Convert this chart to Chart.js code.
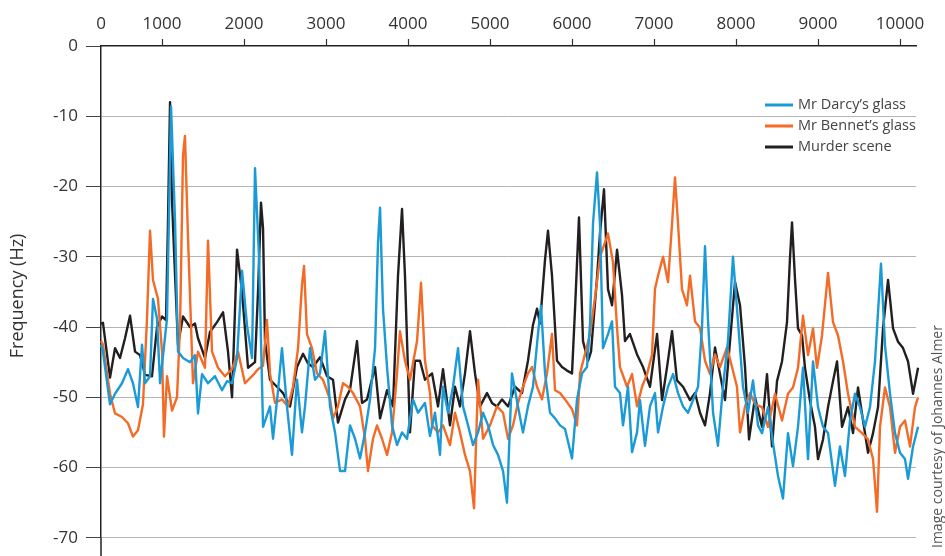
<!DOCTYPE html>
<html>
<head>
<meta charset="utf-8">
<script src="https://cdn.jsdelivr.net/npm/chart.js@4/dist/chart.umd.min.js"></script>
<style>
html,body{margin:0;padding:0;background:#fff;}
#wrap{width:945px;height:556px;position:relative;}
</style>
</head>
<body>
<div id="wrap"><canvas id="c" width="945" height="556"></canvas></div>
<script>
// ---------- DATA ----------
const X_MIN = 256, X_MAX = 10195;
const xTickValues = [X_MIN, 1000, 2000, 3000, 4000, 5000, 6000, 7000, 8000, 9000, 10000];
const xTickLabels = ['0', '1000', '2000', '3000', '4000', '5000', '6000', '7000', '8000', '9000', '10000'];
const yTickValues = [0, -10, -20, -30, -40, -50, -60, -70];
const yTitle = 'Frequency (Hz)';
const creditText = 'Image courtesy of Johannes Almer';
const seriesNames = ['Mr Darcy\u2019s glass', 'Mr Bennet\u2019s glass', 'Murder scene'];

const darcyX = [256,280,366,427,512,585,646,707,756,793,854,890,939,976,1061,1110,1159,1195,1256,1341,1402,1439,1488,1561,1646,1732,1793,1854,1915,1976,2037,2098,2134,2183,2232,2317,2354,2415,2463,2524,2585,2646,2707,2744,2805,2866,2927,2988,3049,3110,3171,3232,3293,3354,3415,3476,3537,3598,3634,3659,3695,3744,3805,3866,3927,3988,4061,4122,4207,4268,4329,4390,4427,4488,4549,4610,4671,4732,4793,4854,4915,4976,5037,5098,5159,5207,5268,5341,5402,5463,5524,5585,5622,5671,5732,5793,5854,5915,6000,6061,6122,6183,6220,6256,6305,6341,6378,6439,6488,6524,6585,6622,6683,6732,6793,6829,6890,6951,7012,7049,7110,7171,7232,7293,7354,7415,7476,7537,7585,7622,7659,7720,7780,7841,7902,7963,8024,8085,8146,8207,8268,8317,8390,8451,8512,8573,8634,8695,8756,8817,8878,8939,9000,9061,9122,9207,9268,9329,9390,9451,9512,9573,9634,9695,9768,9817,9878,9939,10000,10061,10098,10159,10220,10268];
const darcyY = [-42.5,-43.5,-51,-49.5,-48,-46,-48,-51.4,-42.5,-48,-47,-36,-38.8,-48,-38.8,-8.6,-25,-43.5,-44.4,-45,-44,-52.3,-46.7,-48,-47,-49,-47.7,-48,-44.4,-32,-39.8,-44.4,-17.4,-30,-54.2,-51.3,-55.9,-49,-43,-51.3,-58.2,-47.5,-55,-51.3,-43,-47.5,-46.6,-40.6,-51.3,-55,-60.5,-60.5,-54,-55.9,-58.7,-55,-50.3,-43,-28,-23,-37.4,-45.7,-54,-56.8,-55,-55.9,-50.3,-52.2,-50.8,-55.5,-52.2,-58.2,-48.5,-52.2,-48.5,-43,-51.3,-54,-56.8,-55,-52.2,-54,-56.8,-58.2,-60.5,-65,-46.6,-51.3,-55,-51.3,-48.5,-41,-37,-46.6,-52.2,-53,-54,-54.5,-58.7,-50.3,-46.6,-45.7,-39.5,-25.3,-18,-25.3,-43,-41,-39.2,-48.5,-49.4,-54,-48.5,-57.8,-55,-50.4,-56.9,-51.3,-49.4,-55,-51.3,-48.5,-46.7,-49.4,-51.3,-52.2,-50.4,-48.5,-40.1,-28.5,-39.2,-52.2,-56.9,-48.5,-42,-30,-39.2,-48.5,-52.2,-47.6,-54,-55.1,-51.4,-56.5,-61.2,-64.4,-55.1,-59.8,-54.2,-45.8,-58.8,-44.9,-51.4,-54.2,-55.1,-62.6,-57,-61.2,-53.3,-49.5,-51.4,-54.2,-51.4,-44.9,-31,-42.6,-49.5,-55.1,-57.9,-58.8,-61.6,-57,-54.2,-53.7];

const bennetX = [256,280,366,427,512,585,646,707,768,817,854,890,951,1000,1024,1061,1122,1183,1220,1256,1280,1317,1378,1439,1524,1561,1610,1683,1768,1854,1927,2012,2098,2171,2232,2280,2317,2378,2463,2537,2598,2659,2707,2732,2768,2829,2890,2963,3049,3085,3146,3207,3268,3329,3415,3476,3512,3573,3622,3683,3744,3805,3866,3902,3963,4024,4110,4159,4207,4268,4293,4366,4427,4512,4573,4634,4695,4756,4805,4854,4915,5000,5085,5159,5220,5280,5341,5402,5463,5512,5573,5634,5695,5756,5793,5854,5915,6000,6061,6098,6159,6220,6305,6341,6439,6500,6549,6585,6671,6732,6793,6854,6915,6976,7012,7049,7110,7171,7220,7256,7293,7341,7402,7439,7500,7561,7622,7683,7744,7805,7890,7951,8012,8049,8110,8171,8232,8317,8390,8476,8561,8634,8695,8756,8817,8878,8939,8988,9049,9122,9183,9244,9305,9366,9451,9537,9610,9671,9720,9756,9817,9878,9939,10000,10061,10122,10183,10220,10268];
const bennetY = [-42,-42.5,-49.5,-52.3,-52.8,-53.7,-55.6,-54.7,-51,-38.8,-26.3,-33.3,-36,-43.5,-55.6,-47,-51.9,-50,-39.8,-15.6,-12.8,-27.2,-48,-43.5,-45.8,-27.7,-43.5,-45.8,-47,-46,-43.5,-48,-47,-46,-45.5,-39,-46.6,-50.8,-50.3,-51.3,-48.5,-43,-34,-31.3,-41,-43,-46.6,-47.5,-50.3,-53,-51.3,-48,-48.5,-49.4,-51.3,-55.9,-60.5,-55.9,-54,-55.9,-58.2,-55,-46.6,-40.6,-44.8,-47.5,-42,-33.7,-44.8,-49.4,-54,-55,-54,-56.8,-52.2,-55,-58.2,-60.5,-65.8,-47.5,-55.9,-54,-51.3,-52.2,-55.9,-54,-50.8,-48.5,-46.6,-45.7,-48.5,-50.3,-46.6,-41,-49,-49.4,-50.3,-51.7,-54,-46.6,-43.8,-41,-33.6,-30,-26.7,-30.8,-40.1,-45.7,-48.5,-46.7,-51.3,-48.5,-46.7,-43.9,-34.6,-32.7,-30,-33.6,-25.3,-18.7,-25.3,-34.6,-36.9,-32.7,-39.2,-40.1,-44.8,-46.7,-43.9,-45.7,-42.9,-45.7,-48.5,-55,-51.3,-49.4,-51,-51.4,-54.2,-49.5,-53.3,-49.5,-48.6,-45.8,-38.4,-44,-40.2,-45.8,-41.2,-32.3,-39.3,-41.2,-44.9,-49.5,-54.2,-55.1,-56,-58.8,-66.3,-54.2,-48.6,-51.4,-57.9,-54.2,-53.3,-57,-51.4,-50,-52.3];

const murderX = [256,280,366,427,488,549,610,671,732,793,878,939,1000,1049,1073,1098,1122,1146,1195,1256,1341,1402,1439,1524,1585,1671,1744,1805,1854,1915,1976,2049,2134,2171,2207,2232,2256,2317,2402,2476,2561,2646,2720,2780,2841,2927,3012,3085,3146,3232,3293,3378,3439,3500,3598,3659,3744,3817,3878,3927,3963,4024,4085,4146,4207,4293,4366,4427,4512,4573,4634,4695,4756,4817,4878,4963,5024,5085,5146,5220,5305,5390,5463,5524,5573,5610,5671,5707,5756,5817,5878,5939,6000,6037,6085,6134,6195,6232,6305,6341,6390,6439,6488,6549,6610,6646,6707,6793,6866,6951,7037,7098,7159,7220,7280,7354,7439,7500,7561,7622,7683,7744,7805,7866,7927,7988,8049,8110,8159,8232,8317,8378,8439,8500,8561,8622,8659,8683,8720,8756,8805,8841,8902,8963,9000,9061,9122,9183,9232,9293,9366,9427,9488,9549,9610,9671,9732,9793,9854,9915,9976,10037,10098,10159,10220,10268];
const murderY = [-39.5,-39.4,-47.2,-43,-44.4,-41.6,-38.4,-43.5,-44,-46.8,-47,-40,-38.5,-39,-25,-8,-22,-29,-42.5,-38.5,-40,-39.5,-41.6,-44.4,-40.7,-39.3,-37.9,-43.5,-50,-29,-35,-45.8,-45,-35,-22.3,-26,-42,-47.5,-48.5,-49.4,-51.3,-45.7,-43.8,-45.2,-45.7,-44.3,-47,-47.5,-53.6,-50.3,-48.9,-42,-50.8,-50.3,-45.7,-53,-49,-51.3,-32.7,-23.2,-32.7,-55,-44.8,-44.8,-47.5,-46.6,-51.3,-46,-54,-48.5,-51.3,-46.6,-40.6,-46.6,-51.3,-49.4,-50.8,-51.3,-50.3,-51.3,-48.5,-49.4,-44.8,-39.7,-37.4,-39.5,-30.4,-26.3,-32.7,-44.8,-45.7,-46.2,-46.6,-37.4,-24.4,-42,-44.8,-43.5,-33,-26.7,-20.4,-34.6,-36.9,-29,-35.5,-42,-41,-43.9,-45.7,-48.5,-41,-50.4,-45.7,-40.6,-47.6,-48.5,-50.4,-49.4,-52.2,-54,-49.4,-42.9,-46.7,-50.4,-42,-33.6,-36.9,-45.7,-56,-50,-54.2,-46.7,-57,-47.7,-44.9,-39.3,-30,-25.1,-33.3,-40.2,-41.2,-45.8,-50.5,-54.2,-58.8,-56,-51.4,-47.7,-44.9,-54.2,-51.4,-55.1,-48.6,-53.3,-57.9,-55.1,-51.4,-40.2,-33.3,-40.2,-42.1,-43,-44.9,-49.5,-45.8,-45.3];

// ---------- STYLE ----------
const FONT = "'Open Sans', 'Liberation Sans', sans-serif";
const COLORS = ['#1a9ad6', '#f36b26', '#231f20'];
const TEXT = '#333333';

function pts(xs, ys) { return xs.map((x, i) => ({ x: x, y: ys[i] })); }

const extras = {
  id: 'extras',
  afterDraw(chart) {
    const c = chart.ctx, a = chart.chartArea;
    c.save();
    // y axis line continues below the last tick
    c.strokeStyle = '#222'; c.lineWidth = 1.5;
    c.beginPath(); c.moveTo(a.left, a.bottom); c.lineTo(a.left, chart.height); c.stroke();
    // legend
    c.font = '14.5px ' + FONT; c.textAlign = 'left'; c.textBaseline = 'middle';
    chart.data.datasets.forEach((ds, i) => {
      const y = a.top + 59 + i * 21;
      c.strokeStyle = ds.borderColor; c.lineWidth = 3;
      c.beginPath(); c.moveTo(a.right - 151, y); c.lineTo(a.right - 123, y); c.stroke();
      c.fillStyle = '#444';
      c.fillText(ds.label, a.right - 118, y);
    });
    // y title
    c.save();
    c.fillStyle = TEXT; c.font = '18px ' + FONT; c.textAlign = 'center'; c.textBaseline = 'middle';
    c.translate(18, (a.top + a.bottom) / 2 + 4); c.rotate(-Math.PI / 2);
    c.fillText(yTitle, 0, 0);
    c.restore();
    // credit
    c.save();
    c.fillStyle = '#555'; c.font = '14px ' + FONT; c.textAlign = 'left'; c.textBaseline = 'middle';
    c.translate(938, chart.height - 8); c.rotate(-Math.PI / 2);
    c.fillText(creditText, 0, 0);
    c.restore();
    c.restore();
  }
};

const cfg = {
  type: 'line',
  data: {
    datasets: [
      { label: seriesNames[0], data: pts(darcyX, darcyY), borderColor: COLORS[0] },
      { label: seriesNames[1], data: pts(bennetX, bennetY), borderColor: COLORS[1] },
      { label: seriesNames[2], data: pts(murderX, murderY), borderColor: COLORS[2] }
    ].map(d => Object.assign(d, { borderWidth: 2.4, pointRadius: 0, tension: 0, fill: false, clip: false, borderJoinStyle: 'round' }))
  },
  options: {
    responsive: false,
    animation: false,
    devicePixelRatio: 1,
    layout: { padding: { left: 0, right: 29, top: 0, bottom: 9 } },
    plugins: { legend: { display: false }, tooltip: { enabled: false } },
    scales: {
      x: {
        type: 'linear', position: 'top', min: X_MIN, max: X_MAX,
        afterBuildTicks: s => { s.ticks = xTickValues.map(v => ({ value: v })); },
        afterFit: s => { s.height = 46; },
        ticks: { autoSkip: false, maxRotation: 0, padding: 5, color: TEXT, font: { family: FONT, size: 17 },
                 callback: (v, i) => xTickLabels[i] },
        grid: { drawOnChartArea: false, drawTicks: true, tickLength: 7, tickWidth: 1.2,
                tickColor: c => c.index === 0 ? 'rgba(0,0,0,0)' : '#333' },
        border: { display: true, color: '#222', width: 1.5 }
      },
      y: {
        min: -70, max: 0,
        afterBuildTicks: s => { s.ticks = yTickValues.map(v => ({ value: v })); },
        afterFit: s => { s.width = 101; },
        ticks: { padding: 8, color: TEXT, font: { family: FONT, size: 17 }, callback: v => String(v) },
        grid: { drawTicks: true, tickLength: 15, tickColor: '#444', lineWidth: 1,
                color: c => (c.tick && c.tick.value === 0) ? 'rgba(0,0,0,0)' : '#b5b5b5' },
        border: { display: true, color: '#222', width: 1.5 }
      }
    }
  },
  plugins: [extras]
};

new Chart(document.getElementById('c'), cfg);
</script>
</body>
</html>
